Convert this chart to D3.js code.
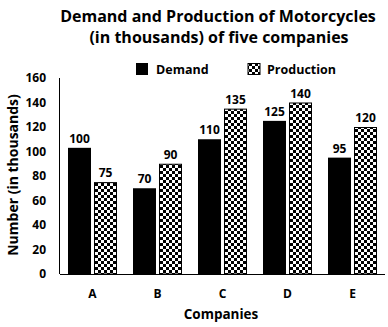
<html>
<head>
<meta charset="utf-8">
<script src="https://cdnjs.cloudflare.com/ajax/libs/d3/7.8.5/d3.min.js"></script>
<style>
body { margin: 0; background: #fff; }
text { font-family: "Open Sans", "DejaVu Sans", sans-serif; font-weight: bold; fill: #000; }
</style>
</head>
<body>
<div id="main"></div>
<script>
var companies = ["A", "B", "C", "D", "E"];
var demand = [103, 70, 110, 125, 95];
var demandLabels = ["100", "70", "110", "125", "95"];
var production = [75, 90, 135, 140, 120];
var productionLabels = ["75", "90", "135", "140", "120"];
var yTicks = [0, 20, 40, 60, 80, 100, 120, 140, 160];

var width = 388, height = 327;
var plotLeft = 60, plotRight = 385, plotTop = 78, plotBottom = 274;

var svg = d3.select("#main").append("svg")
    .attr("width", width)
    .attr("height", height);

// checkerboard fill for production
var defs = svg.append("defs");
var pat = defs.append("pattern")
    .attr("id", "checker")
    .attr("patternUnits", "userSpaceOnUse")
    .attr("width", 6).attr("height", 6);
pat.append("rect").attr("width", 6).attr("height", 6).attr("fill", "#fff");
pat.append("rect").attr("width", 3).attr("height", 3).attr("fill", "#000");
pat.append("rect").attr("x", 3).attr("y", 3).attr("width", 3).attr("height", 3).attr("fill", "#000");

var x = d3.scaleBand().domain(companies).range([plotLeft, plotRight]).paddingInner(0).paddingOuter(0);
var y = d3.scaleLinear().domain([0, 160]).range([plotBottom, plotTop]);

var barW = 23, gap = 3;
var off = (x.bandwidth() - (2 * barW + gap)) / 2;

// title
svg.append("text").attr("x", 218).attr("y", 22).attr("text-anchor", "middle")
    .style("font-size", "16px").text("Demand and Production of Motorcycles");
svg.append("text").attr("x", 219).attr("y", 43).attr("text-anchor", "middle")
    .style("font-size", "16px").text("(in thousands) of five companies");

// legend
svg.append("rect").attr("x", 136).attr("y", 63).attr("width", 12).attr("height", 12).attr("fill", "#000");
svg.append("text").attr("x", 156).attr("y", 74).style("font-size", "12.5px").text("Demand");
svg.append("rect").attr("x", 248).attr("y", 63.5).attr("width", 12).attr("height", 11)
    .attr("fill", "url(#checker)").attr("stroke", "#000").attr("stroke-width", 1);
svg.append("text").attr("x", 267).attr("y", 74).style("font-size", "12.5px").text("Production");

// y axis labels
svg.selectAll(".ytick").data(yTicks).enter().append("text")
    .attr("class", "ytick")
    .attr("x", 46).attr("y", function(d) { return y(d); })
    .attr("dy", "0.35em")
    .attr("text-anchor", "end")
    .style("font-size", "12px")
    .text(function(d) { return d; });

// bars
var g = svg.selectAll(".grp").data(companies).enter().append("g")
    .attr("transform", function(d) { return "translate(" + (x(d) + off) + ",0)"; });

g.append("rect")
    .attr("x", 0).attr("width", barW)
    .attr("y", function(d, i) { return y(demand[i]); })
    .attr("height", function(d, i) { return y(0) - y(demand[i]); })
    .attr("fill", "#000");

g.append("rect")
    .attr("x", barW + gap + 0.5).attr("width", barW - 1)
    .attr("y", function(d, i) { return y(production[i]) + 0.5; })
    .attr("height", function(d, i) { return y(0) - y(production[i]) - 0.5; })
    .attr("fill", "url(#checker)")
    .attr("stroke", "#000").attr("stroke-width", 1);

g.append("text")
    .attr("x", barW / 2)
    .attr("y", function(d, i) { return y(demand[i]) - 5; })
    .attr("text-anchor", "middle")
    .style("font-size", "12px")
    .text(function(d, i) { return demandLabels[i]; });

g.append("text")
    .attr("x", barW + gap + barW / 2)
    .attr("y", function(d, i) { return y(production[i]) - 5; })
    .attr("text-anchor", "middle")
    .style("font-size", "12px")
    .text(function(d, i) { return productionLabels[i]; });

// axes lines
svg.append("line").attr("x1", plotLeft - 0.5).attr("x2", plotLeft - 0.5).attr("y1", plotTop).attr("y2", plotBottom)
    .attr("stroke", "#000");
svg.append("line").attr("x1", plotLeft).attr("x2", plotRight).attr("y1", plotBottom + 0.5).attr("y2", plotBottom + 0.5)
    .attr("stroke", "#000");

// category labels
svg.selectAll(".xlab").data(companies).enter().append("text")
    .attr("x", function(d) { return x(d) + x.bandwidth() / 2; })
    .attr("y", 298)
    .attr("text-anchor", "middle")
    .style("font-size", "12px")
    .text(function(d) { return d; });

// axis titles
svg.append("text").attr("x", 221).attr("y", 319).attr("text-anchor", "middle")
    .style("font-size", "13.5px").text("Companies");
svg.append("text")
    .attr("transform", "translate(18,175) rotate(-90)")
    .attr("text-anchor", "middle")
    .style("font-size", "14px").text("Number (in thousands)");
</script>
</body>
</html>
